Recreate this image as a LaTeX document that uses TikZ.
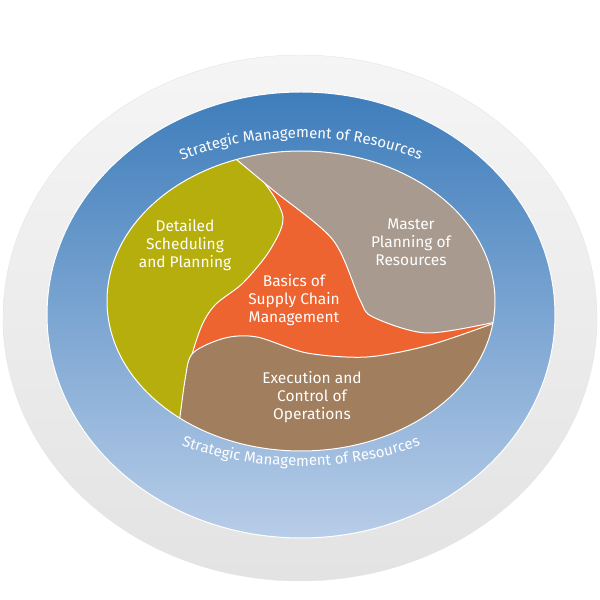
\documentclass[tikz,border=0pt]{standalone}
\usepackage{fontspec}
\setmainfont{Fira Sans}
\usetikzlibrary{decorations.text}
\definecolor{olive}{HTML}{B5AE0C}
\definecolor{greyb}{HTML}{A89A8E}
\definecolor{brownb}{HTML}{A07E5E}
\definecolor{orng}{HTML}{EE6430}
\tikzset{lbl/.style={text=white,align=center,font=\fontsize{15.5}{18}\selectfont},
 border/.style={draw=white,line width=1pt}}
\begin{document}
\begin{tikzpicture}[x=1pt,y=1pt]
\useasboundingbox (0,0) rectangle (600,600);
\shade[top color=black!4,bottom color=black!11,draw=black!10] (300,282) ellipse[x radius=297,y radius=263];
\shade[top color={rgb,255:red,62;green,125;blue,187},bottom color={rgb,255:red,184;green,205;blue,232},draw=white,line width=1pt] (301,285) ellipse[x radius=254,y radius=223];
\begin{scope}
\clip (301,299) ellipse[x radius=194,y radius=150];
\fill[orng] (100,100) rectangle (510,500);
\path[fill=olive,border] plot[smooth] coordinates {(225,450)(262,420)(283,383)(270,350)(243,317)(215,295)(200,270)(186,220)(180,150)} -- (100,140) -- (100,460) -- cycle;
\path[fill=greyb,border] plot[smooth] coordinates {(225,450)(273,410)(333,360)(360,300)(373,283)(427,267)(500,279)} -- (510,280) -- (510,460) -- cycle;
\path[fill=brownb,border] plot[smooth] coordinates {(176,150)(185,220)(193,247)(225,262)(257,263)(307,247)(367,243)(430,255)(500,279)} -- (510,130) -- (170,130) -- cycle;
\end{scope}
\draw[white,line width=1pt] (301,299) ellipse[x radius=194,y radius=150];
\node[lbl] (d) at (185,355) {Detailed\\Scheduling\\and Planning};
\node[lbl] (m) at (411,358) {Master\\Planning of\\Resources};
\node[lbl] (b) at (294,300) {Basics of\\Supply Chain\\Management};
\node[lbl] (e) at (312,203) {Execution and\\Control of\\Operations};
\path[decorate,decoration={text along path,text align=center,text={|\fontsize{15}{17}\selectfont\color{white}|Strategic Management of Resources}}]
 (301,298) ++(145:238 and 164) arc[start angle=145,end angle=35,x radius=238,y radius=164];
\path[decorate,decoration={text along path,text align=center,text={|\fontsize{15}{17}\selectfont\color{white}|Strategic Management of Resources}}]
 (301,304) ++(215:250 and 170) arc[start angle=215,end angle=325,x radius=250,y radius=170];
\end{tikzpicture}
\end{document}
